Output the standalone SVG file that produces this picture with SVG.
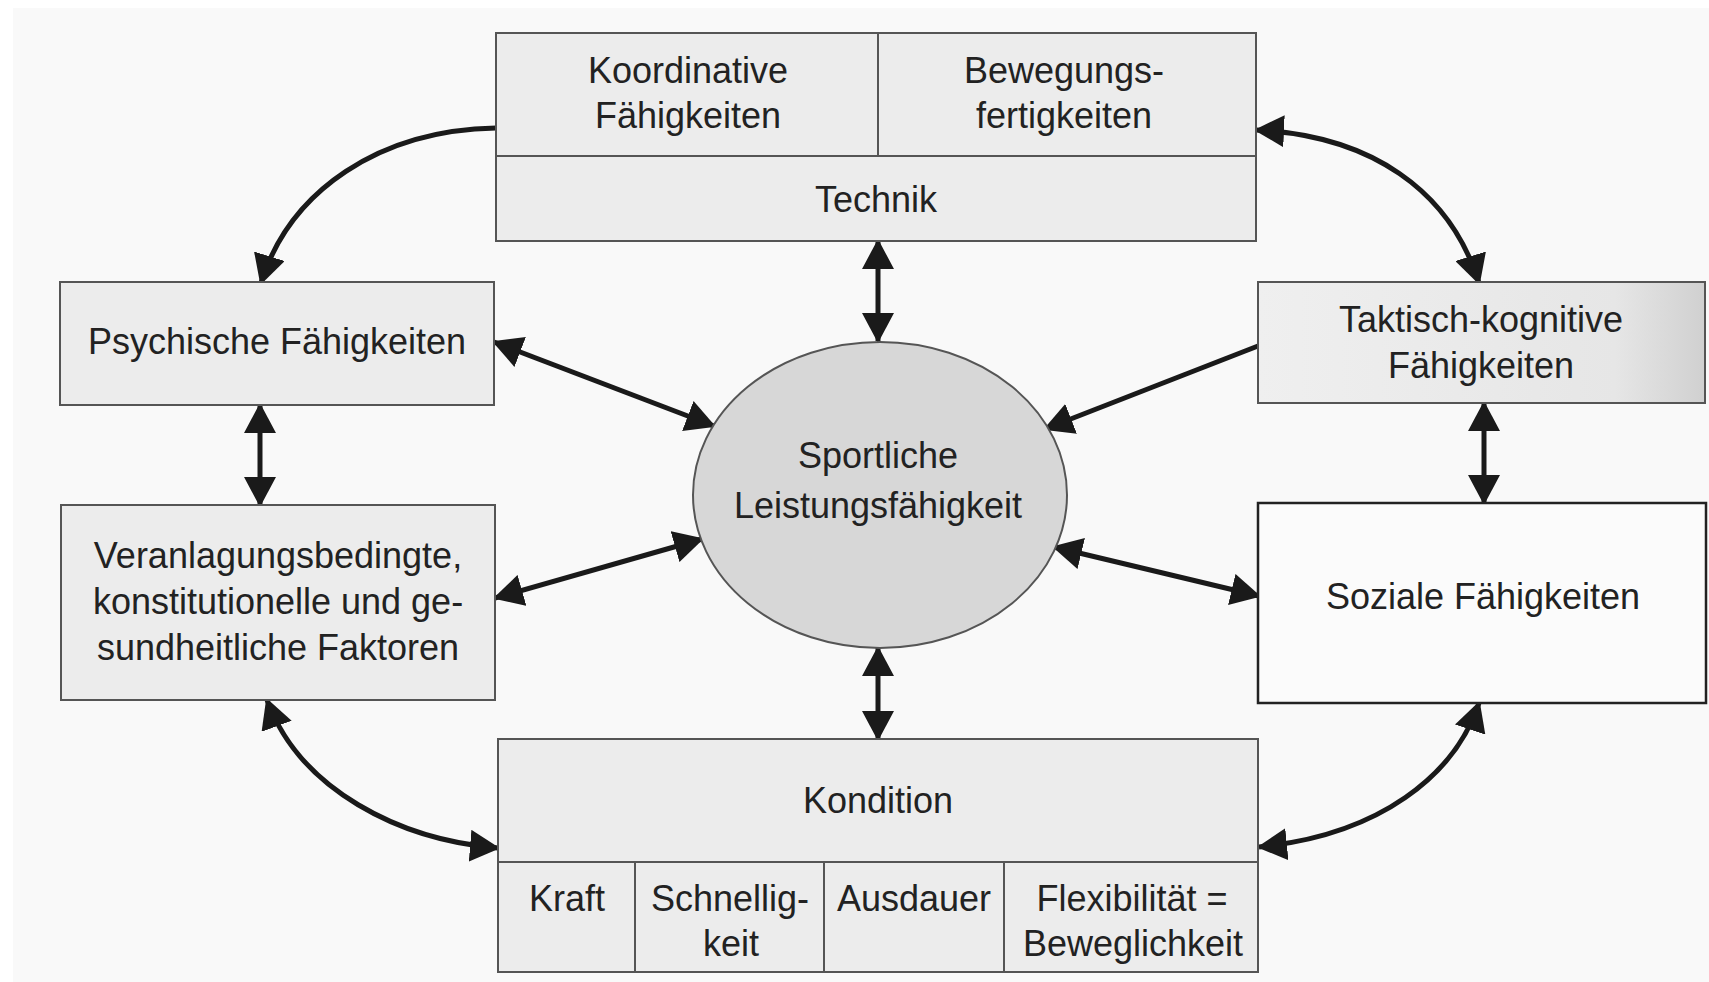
<svg xmlns="http://www.w3.org/2000/svg" width="1709" height="982" viewBox="0 0 1709 982">
<defs>
<style>
.box{fill:#ececec;stroke:#555;stroke-width:2}
.div{stroke:#555;stroke-width:2;fill:none}
.t{font-family:"Liberation Sans",Arial,sans-serif;font-size:36px;fill:#222;text-anchor:middle}
.c{fill:none;stroke:#1a1a1a;stroke-width:5}
</style>
<marker id="ah" viewBox="0 0 30 32" markerUnits="userSpaceOnUse" markerWidth="30" markerHeight="32" refX="28" refY="16" orient="auto-start-reverse">
<path d="M0,0 L30,16 L0,32 z" fill="#1a1a1a"/>
</marker>
<linearGradient id="tg" x1="0" y1="0" x2="1" y2="0">
<stop offset="0" stop-color="#efefef"/>
<stop offset="0.8" stop-color="#e6e6e6"/>
<stop offset="1" stop-color="#d0d0d0"/>
</linearGradient>
</defs>
<rect x="0" y="0" width="1709" height="982" fill="#ffffff"/>
<rect x="13" y="8" width="1696" height="974" fill="#f9f9f9"/>

<g id="connectors">
<path class="c" d="M 496 128 C 380 130, 290 190, 261 283" marker-end="url(#ah)"/>
<path class="c" d="M 1256 130 C 1370 135, 1450 190, 1479 283" marker-start="url(#ah)" marker-end="url(#ah)"/>
<path class="c" d="M 878 241 L 878 341" marker-start="url(#ah)" marker-end="url(#ah)"/>
<path class="c" d="M 878 648 L 878 739" marker-start="url(#ah)" marker-end="url(#ah)"/>
<path class="c" d="M 260 405 L 260 505" marker-start="url(#ah)" marker-end="url(#ah)"/>
<path class="c" d="M 1484 403 L 1484 503" marker-start="url(#ah)" marker-end="url(#ah)"/>
<path class="c" d="M 494 342 L 714 426" marker-start="url(#ah)" marker-end="url(#ah)"/>
<path class="c" d="M 495 598 L 702 539" marker-start="url(#ah)" marker-end="url(#ah)"/>
<path class="c" d="M 1258 346 L 1045 429" marker-end="url(#ah)"/>
<path class="c" d="M 1054 547 L 1259 596" marker-start="url(#ah)" marker-end="url(#ah)"/>
<path class="c" d="M 267 700 C 300 790, 400 840, 498 848" marker-start="url(#ah)" marker-end="url(#ah)"/>
<path class="c" d="M 1479 703 C 1455 775, 1380 835, 1259 847" marker-start="url(#ah)" marker-end="url(#ah)"/>
</g>

<g id="technik">
<rect class="box" x="496" y="33" width="760" height="208"/>
<line class="div" x1="496" y1="156" x2="1256" y2="156"/>
<line class="div" x1="878" y1="33" x2="878" y2="156"/>
<text class="t" x="688" y="83">Koordinative</text>
<text class="t" x="688" y="128">Fähigkeiten</text>
<text class="t" x="1064" y="83">Bewegungs-</text>
<text class="t" x="1064" y="128">fertigkeiten</text>
<text class="t" x="876" y="212">Technik</text>
</g>

<g id="psychische">
<rect class="box" x="60" y="282" width="434" height="123"/>
<text class="t" x="277" y="354">Psychische Fähigkeiten</text>
</g>

<g id="veranlagung">
<rect class="box" x="61" y="505" width="434" height="195"/>
<text class="t" x="278" y="568">Veranlagungsbedingte,</text>
<text class="t" x="278" y="614">konstitutionelle und ge-</text>
<text class="t" x="278" y="660">sundheitliche Faktoren</text>
</g>

<g id="taktisch">
<rect x="1258" y="282" width="447" height="121" fill="url(#tg)" stroke="#555" stroke-width="2"/>
<text class="t" x="1481" y="332">Taktisch-kognitive</text>
<text class="t" x="1481" y="378">Fähigkeiten</text>
</g>

<g id="soziale">
<rect x="1258" y="503" width="448" height="200" fill="#fbfbfb" stroke="#222" stroke-width="2.5"/>
<text class="t" x="1483" y="609">Soziale Fähigkeiten</text>
</g>

<g id="leistung">
<ellipse cx="880" cy="495" rx="187" ry="153" fill="#d7d7d7" stroke="#555" stroke-width="2"/>
<text class="t" x="878" y="468">Sportliche</text>
<text class="t" x="878" y="518">Leistungsfähigkeit</text>
</g>

<g id="kondition">
<rect class="box" x="498" y="739" width="760" height="233"/>
<line class="div" x1="498" y1="862" x2="1258" y2="862"/>
<line class="div" x1="635" y1="862" x2="635" y2="972"/>
<line class="div" x1="824" y1="862" x2="824" y2="972"/>
<line class="div" x1="1004" y1="862" x2="1004" y2="972"/>
<text class="t" x="878" y="813">Kondition</text>
<text class="t" x="567" y="911">Kraft</text>
<text class="t" x="730" y="911">Schnellig-</text>
<text class="t" x="731" y="956">keit</text>
<text class="t" x="914" y="911">Ausdauer</text>
<text class="t" x="1132" y="911">Flexibilität =</text>
<text class="t" x="1133" y="956">Beweglichkeit</text>
</g>
</svg>
